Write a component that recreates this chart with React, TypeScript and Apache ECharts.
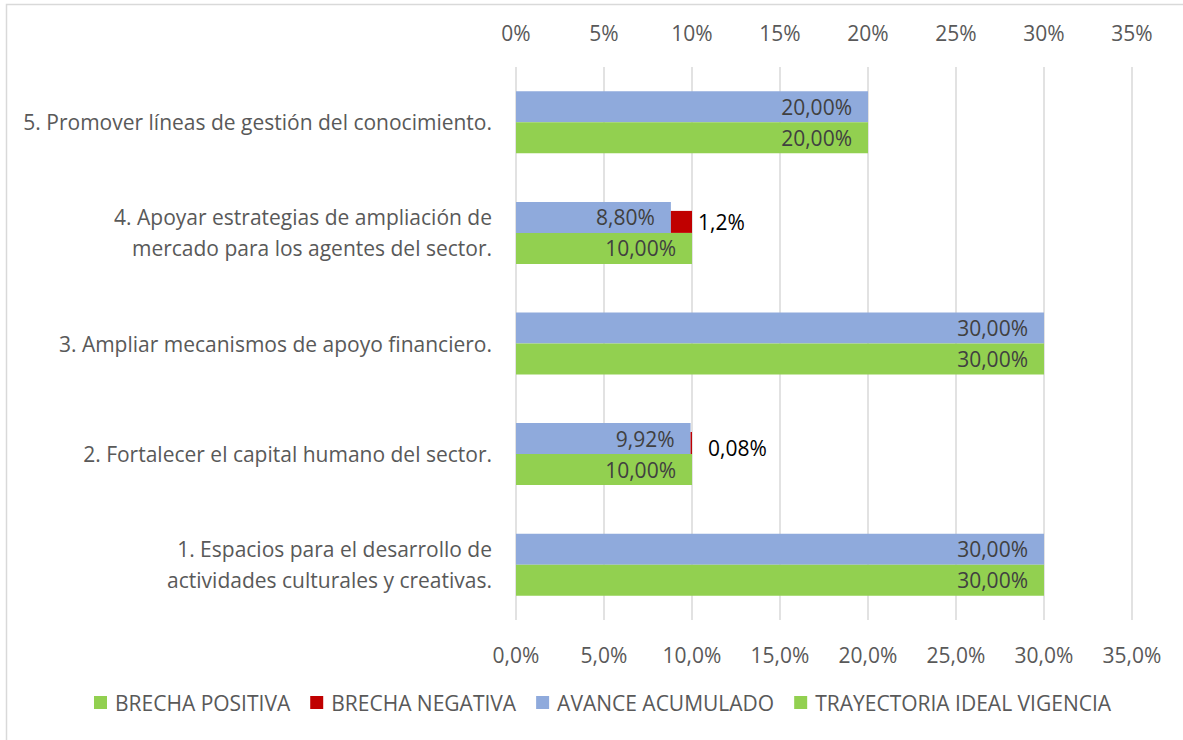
import React, { useEffect, useRef } from "react";
import * as echarts from "echarts";

const categories = [
  "1. Espacios para el desarrollo de\nactividades culturales y creativas.",
  "2. Fortalecer el capital humano del sector.",
  "3. Ampliar mecanismos de apoyo financiero.",
  "4. Apoyar estrategias de ampliación de\nmercado para los agentes del sector.",
  "5. Promover líneas de gestión del conocimiento.",
];
const trayectoria = [30, 10, 30, 10, 20];
const avance = [30, 9.92, 30, 8.8, 20];
const brechaNegativa = [0, 0.08, 0, 1.2, 0];
const brechaPositiva = [0, 0, 0, 0, 0];
const xTicksTop = [0, 5, 10, 15, 20, 25, 30, 35];

const GREEN = "#92D050";
const BLUE = "#8FAADC";
const RED = "#C00000";
const FONT = "Open Sans";
const FS = 21;

export default function App() {
  const ref = useRef<HTMLDivElement>(null);
  useEffect(() => {
    if (!ref.current) return;
    const chart = echarts.init(ref.current, null, { renderer: "svg" });
    const comma = (v: number, d: number) => v.toFixed(d).replace(".", ",");
    chart.setOption({
      animation: false,
      backgroundColor: "#ffffff",
      textStyle: { fontFamily: FONT },
      graphic: [
        {
          type: "rect",
          shape: { x: 6.5, y: 4.5, width: 1300, height: 900 },
          style: { fill: "none", stroke: "#D9D9D9", lineWidth: 1.5 },
          silent: true,
        },
      ],
      grid: { left: 516, right: 51, top: 67, bottom: 120 },
      legend: {
        bottom: 22,
        left: 89,
        itemWidth: 13,
        itemHeight: 13,
        itemGap: 20,
        icon: "rect",
        textStyle: { fontFamily: FONT, fontSize: FS, color: "#595959", padding: [0, 0, 0, 3] },
        data: ["BRECHA POSITIVA", "BRECHA NEGATIVA", "AVANCE ACUMULADO", "TRAYECTORIA IDEAL VIGENCIA"],
      },
      xAxis: [
        {
          type: "value",
          position: "bottom",
          min: 0,
          max: 35,
          interval: 5,
          axisLine: { show: false },
          axisTick: { show: false },
          splitLine: { show: true, lineStyle: { color: "#D9D9D9", width: 1.5 } },
          axisLabel: {
            margin: 24,
            fontFamily: FONT,
            fontSize: FS,
            color: "#595959",
            formatter: (v: number) => comma(v, 1) + "%",
          },
        },
        {
          type: "value",
          position: "top",
          min: 0,
          max: 35,
          interval: 5,
          axisLine: { show: false },
          axisTick: { show: false },
          splitLine: { show: false },
          axisLabel: {
            margin: 24,
            fontFamily: FONT,
            fontSize: FS,
            color: "#595959",
            formatter: (v: number) => (xTicksTop.includes(v) ? v + "%" : ""),
          },
        },
      ],
      yAxis: [
        {
          type: "category",
          data: categories,
          axisLine: { show: false },
          axisTick: { show: false },
          axisLabel: {
            margin: 24,
            fontFamily: FONT,
            fontSize: FS,
            lineHeight: 31,
            color: "#595959",
            align: "right",
          },
        },
        {
          type: "category",
          data: categories,
          show: false,
        },
      ],
      series: [
        {
          name: "AVANCE ACUMULADO",
          type: "bar",
          xAxisIndex: 0,
          yAxisIndex: 0,
          barWidth: 31,
          data: avance,
          itemStyle: { color: BLUE },
          label: {
            show: true,
            position: "insideRight",
            distance: 16,
            fontFamily: FONT,
            fontSize: FS,
            color: "#404040",
            formatter: (p: any) => comma(p.value, 2) + "%",
          },
        },
        {
          name: "TRAYECTORIA IDEAL VIGENCIA",
          type: "bar",
          xAxisIndex: 0,
          yAxisIndex: 0,
          barWidth: 31,
          barGap: "0%",
          data: trayectoria,
          itemStyle: { color: GREEN },
          label: {
            show: true,
            position: "insideRight",
            distance: 16,
            fontFamily: FONT,
            fontSize: FS,
            color: "#404040",
            formatter: (p: any) => comma(p.value, 2) + "%",
          },
        },
        {
          name: "base",
          type: "bar",
          xAxisIndex: 1,
          yAxisIndex: 1,
          stack: "neg",
          barWidth: 22,
          silent: true,
          data: avance,
          itemStyle: { color: "rgba(0,0,0,0)" },
          label: { show: false },
        },
        {
          name: "BRECHA NEGATIVA",
          type: "bar",
          xAxisIndex: 1,
          yAxisIndex: 1,
          stack: "neg",
          barWidth: 22,
          data: brechaNegativa.map((v, i) =>
            i === 1
              ? { value: v, label: { offset: [10, 5] } }
              : v
          ),
          itemStyle: { color: RED },
          label: {
            show: true,
            position: "right",
            distance: 6,
            fontFamily: FONT,
            fontSize: FS,
            color: "#000000",
            formatter: (p: any) => (p.value ? String(p.value).replace(".", ",") + "%" : ""),
          },
        },
        {
          name: "BRECHA POSITIVA",
          type: "bar",
          xAxisIndex: 1,
          yAxisIndex: 1,
          stack: "pos",
          barWidth: 22,
          barGap: "0%",
          data: brechaPositiva,
          itemStyle: { color: GREEN },
          label: { show: false },
        },
      ],
    });
    return () => chart.dispose();
  }, []);
  return (
    <div
      ref={ref}
      style={{ position: "fixed", left: 0, top: 0, width: 1183, height: 740 }}
    />
  );
}
